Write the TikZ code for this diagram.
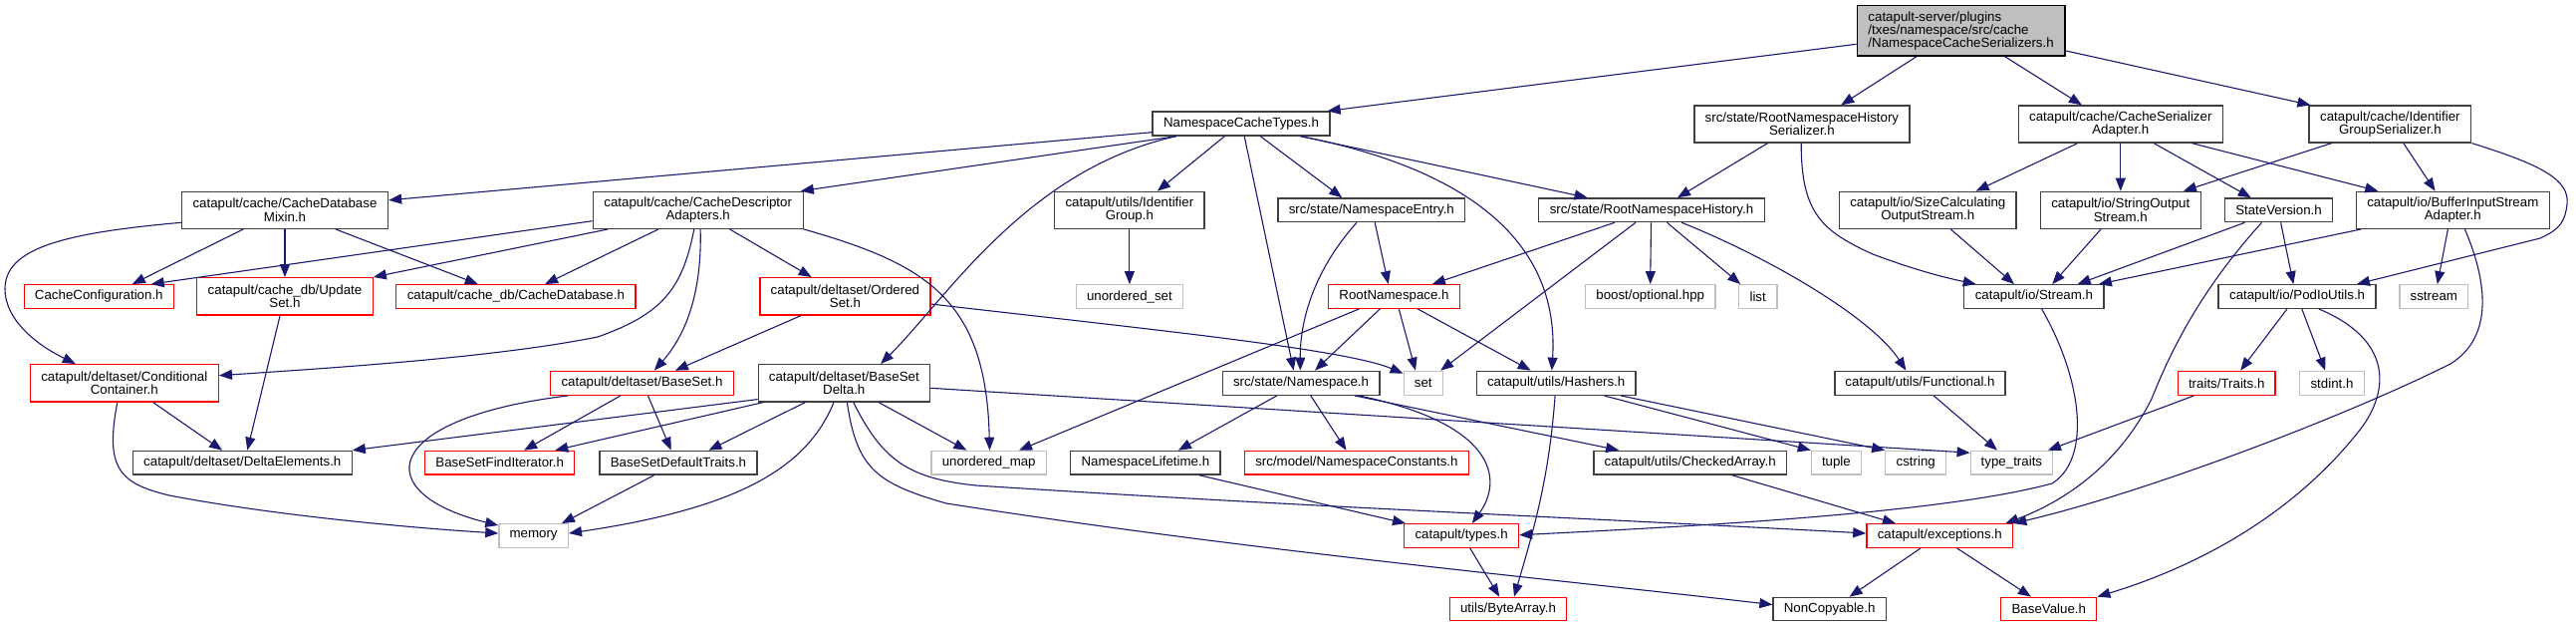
\documentclass[tikz,border=0pt]{standalone}
\usepackage{fontspec}
\setmainfont{Liberation Sans}
\usetikzlibrary{arrows.meta}
\definecolor{edgec}{HTML}{191970}
\definecolor{sysgray}{HTML}{BFBFBF}
\definecolor{docgray}{HTML}{404040}
\newcommand\dxfont{\fontsize{13.3}{13.3}\selectfont}
\tikzset{
  nb/.style={rectangle, inner sep=0pt, align=center, font=\dxfont, line width=1.3pt},
  doc/.style={nb, draw=docgray},
  undoc/.style={nb, draw=red},
  sys/.style={nb, draw=sysgray},
  sz/.style 2 args={minimum width=#1pt, minimum height=#2pt},
  conn/.style={draw=edgec, line width=1.1pt, -{Triangle[length=13pt,width=10pt]}},
}
\begin{document}
\begin{tikzpicture}[x=1pt,y=-1pt]
\useasboundingbox (0,0) rectangle (2586,629);
% row 0
\node[nb, draw=black, fill=sysgray, align=left, sz={208.7}{50.3}] (root) at (1968.6,30.9) {catapult-server/plugins\\/txes/namespace/src/cache\\/NamespaceCacheSerializers.h};
% row 1
\node[doc, sz={178}{24}] (nct) at (1246,124) {NamespaceCacheTypes.h};
\node[doc, sz={216}{37}] (rnhs) at (1808.9,124.5) {src/state/RootNamespaceHistory\\Serializer.h};
\node[doc, sz={205}{37}] (csa) at (2128.8,124.5) {catapult/cache/CacheSerializer\\Adapter.h};
\node[doc, sz={162.7}{37}] (igs) at (2399.4,124.5) {catapult/cache/Identifier\\GroupSerializer.h};
% row 2
\node[doc, sz={207}{37}] (mixin) at (286,210.8) {catapult/cache/CacheDatabase\\Mixin.h};
\node[doc, sz={211}{37}] (cda) at (700.7,210.8) {catapult/cache/CacheDescriptor\\Adapters.h};
\node[doc, sz={150.2}{37}] (idg) at (1133.9,210.8) {catapult/utils/Identifier\\Group.h};
\node[doc, sz={187.8}{23.7}] (nse) at (1376.8,210.8) {src/state/NamespaceEntry.h};
\node[doc, sz={226.5}{23.7}] (rnh) at (1658,210.8) {src/state/RootNamespaceHistory.h};
\node[doc, sz={177.6}{37}] (scos) at (1935.3,210.8) {catapult/io/SizeCalculating\\OutputStream.h};
\node[doc, sz={161}{37}] (sos) at (2128.8,210.8) {catapult/io/StringOutput\\Stream.h};
\node[doc, sz={108}{23.7}] (sv) at (2287.5,210.8) {StateVersion.h};
\node[doc, sz={194}{37}] (bisa) at (2462.3,210.8) {catapult/io/BufferInputStream\\Adapter.h};
% row 3
\node[undoc, sz={150.2}{23.6}] (cfg) at (99.3,297.5) {CacheConfiguration.h};
\node[undoc, sz={176.4}{37.3}] (us) at (286,297.3) {catapult/cache\_db/Update\\Set.h};
\node[undoc, sz={240.3}{23.6}] (cdb) at (517.9,297.5) {catapult/cache\_db/CacheDatabase.h};
\node[undoc, sz={171}{37.3}] (os) at (848.4,297.3) {catapult/deltaset/Ordered\\Set.h};
\node[sys, sz={107.4}{23.6}] (uset) at (1133.9,297.5) {unordered\_set};
\node[undoc, sz={132}{23.6}] (rn) at (1399.5,297.5) {RootNamespace.h};
\node[sys, sz={130.5}{23.6}] (bopt) at (1656.7,297.5) {boost/optional.hpp};
\node[sys, sz={38.3}{23.6}] (list) at (1764.7,297.5) {list};
\node[doc, sz={140.2}{23.6}] (stream) at (2041.9,297.5) {catapult/io/Stream.h};
\node[doc, sz={158}{23.6}] (podio) at (2306.1,297.5) {catapult/io/PodIoUtils.h};
\node[sys, sz={68.8}{23.6}] (sstream) at (2443.3,297.5) {sstream};
% row 4
\node[undoc, sz={189}{37.3}] (cc) at (124.8,384.3) {catapult/deltaset/Conditional\\Container.h};
\node[undoc, sz={184.6}{24}] (bs) at (644.5,384.3) {catapult/deltaset/BaseSet.h};
\node[doc, sz={172.2}{37.3}] (bsd) at (847.3,384.3) {catapult/deltaset/BaseSet\\Delta.h};
\node[doc, sz={157.7}{24}] (ns) at (1306,384.3) {src/state/Namespace.h};
\node[sys, sz={39.2}{24}] (set) at (1428.8,384.3) {set};
\node[doc, sz={159.6}{24}] (hash) at (1562.2,384.3) {catapult/utils/Hashers.h};
\node[doc, sz={171.1}{24}] (func) at (1927.5,384.3) {catapult/utils/Functional.h};
\node[undoc, sz={97.7}{24}] (traits) at (2235.2,384.3) {traits/Traits.h};
\node[sys, sz={64.6}{24}] (stdint) at (2341,384.3) {stdint.h};
% row 5
\node[doc, sz={219.7}{23.7}] (de) at (243.3,464.2) {catapult/deltaset/DeltaElements.h};
\node[undoc, sz={149.8}{23.7}] (bsfi) at (501.7,464.2) {BaseSetFindIterator.h};
\node[doc, sz={158}{23.7}] (bsdt) at (681,464.2) {BaseSetDefaultTraits.h};
\node[sys, sz={115.3}{23.7}] (umap) at (992.7,464.2) {unordered\_map};
\node[doc, sz={150.2}{23.7}] (nsl) at (1149.9,464.2) {NamespaceLifetime.h};
\node[undoc, sz={225}{23.7}] (nsc) at (1361.9,464.2) {src/model/NamespaceConstants.h};
\node[doc, sz={193.6}{23.7}] (ca) at (1696.7,464.2) {catapult/utils/CheckedArray.h};
\node[sys, sz={50.1}{23.7}] (tuple) at (1843.4,464.2) {tuple};
\node[sys, sz={60.8}{23.7}] (cstring) at (1923.2,464.2) {cstring};
\node[sys, sz={82.4}{23.7}] (tt) at (2019.4,464.2) {type\_traits};
% row 6
\node[sys, sz={69.5}{23.6}] (mem) at (535.6,537.5) {memory};
\node[undoc, sz={114.9}{23.6}] (types) at (1467.1,537.5) {catapult/types.h};
\node[undoc, sz={146.8}{23.6}] (exc) at (1947.3,537.5) {catapult/exceptions.h};
% row 7
\node[undoc, sz={117}{23.4}] (ba) at (1514,611) {utils/ByteArray.h};
\node[doc, sz={113.2}{23.4}] (nc) at (1836.6,611) {NonCopyable.h};
\node[undoc, sz={96}{23.4}] (bv) at (2056.8,611) {BaseValue.h};

% ---- edges ----
% root
\draw[conn] ([yshift=-13.4pt]root.west) -- ([xshift=-3pt]nct.north east);
\draw[conn] ([xshift=-44.6pt]root.south) -- ([xshift=39.3pt]rnhs.north);
\draw[conn] ([xshift=44pt]root.south) -- ([xshift=-38.9pt]csa.north);
\draw[conn] ([yshift=-20pt]root.east) -- ([xshift=2pt]igs.north west);
% NamespaceCacheTypes
\draw[conn] ([yshift=-8.7pt]nct.west) -- ([yshift=10pt]mixin.east);
\draw[conn] ([xshift=-65pt]nct.south) -- ([xshift=-3pt]cda.north east);
\draw[conn] ([xshift=-65pt]nct.south) .. controls (1030,170) and (950,300) .. ([xshift=36.8pt]bsd.north);
\draw[conn] ([xshift=-16.6pt]nct.south) -- ([xshift=28pt]idg.north);
\draw[conn] ([xshift=19.2pt]nct.south) -- ([xshift=-29.5pt]nse.north);
\draw[conn] ([xshift=3.2pt]nct.south) -- ([xshift=-7.3pt]ns.north);
\draw[conn] ([xshift=59.5pt]nct.south) -- ([xshift=-64.4pt]rnh.north);
\draw[conn] ([xshift=59.5pt]nct.south) .. controls (1500,175) and (1565,260) .. ([xshift=-4.4pt]hash.north);
% Mixin
\draw[conn] ([xshift=-41.7pt]mixin.south) -- ([xshift=33.5pt]cfg.north);
\draw[conn] (mixin.south) -- (us.north);
\draw[conn] ([xshift=50.9pt]mixin.south) -- ([xshift=-38.1pt]cdb.north);
\draw[conn] ([yshift=-12.5pt]mixin.west) .. controls (60,234) and (5,250) .. (5,290) .. controls (5,320) and (35,345) .. ([xshift=-49pt]cc.north);
% CacheDescriptorAdapters
\draw[conn] ([yshift=-10.9pt]cda.west) -- ([xshift=52.4pt]cfg.north);
\draw[conn] ([xshift=-90.4pt]cda.south) -- (us.north east);
\draw[conn] ([xshift=-39.7pt]cda.south) -- ([xshift=29.2pt]cdb.north);
\draw[conn] ([xshift=-3.9pt]cda.south) .. controls (685,290) and (665,315) .. (600,338) .. controls (500,358) and (350,368) .. ([yshift=7.6pt]cc.east);
\draw[conn] ([xshift=2.4pt]cda.south) .. controls (705,300) and (685,340) .. ([xshift=12.3pt]bs.north);
\draw[conn] ([xshift=31.9pt]cda.south) -- ([xshift=-33.7pt]os.north);
\draw[conn] (cda.south east) .. controls (930,265) and (990,300) .. ([xshift=0.8pt]umap.north);
% IdentifierGroup
\draw[conn] (idg.south) -- (uset.north);
% NamespaceEntry
\draw[conn] ([xshift=3.4pt]nse.south) -- ([xshift=-5.8pt]rn.north);
\draw[conn] ([xshift=-14.8pt]nse.south) .. controls (1320,270) and (1305,320) .. ([xshift=-0.7pt]ns.north);
% RootNamespaceHistorySerializer
\draw[conn] ([xshift=-34.4pt]rnhs.south) -- ([xshift=26pt]rnh.north);
\draw[conn] ([xshift=-0.7pt]rnhs.south) .. controls (1808,215) and (1830,232) .. (1880,255) .. controls (1920,270) and (1950,278) .. ([xshift=-58.2pt]stream.north);
% RootNamespaceHistory
\draw[conn] ([xshift=-37.1pt]rnh.south) -- ([xshift=38.4pt]rn.north);
\draw[conn] ([xshift=-16.1pt]rnh.south) -- ([xshift=17.4pt]set.north);
\draw[conn] ([xshift=-0.5pt]rnh.south) -- (bopt.north);
\draw[conn] ([xshift=15.5pt]rnh.south) -- ([xshift=-17.5pt]list.north);
\draw[conn] ([xshift=30.2pt]rnh.south) .. controls (1780,260) and (1880,320) .. ([xshift=-14.1pt]func.north);
% RootNamespace
\draw[conn] ([xshift=-14.2pt]rn.south) -- ([xshift=14pt]ns.north);
\draw[conn] ([xshift=4.8pt]rn.south) -- ([xshift=-7.8pt]set.north);
\draw[conn] ([xshift=23.7pt]rn.south) -- ([xshift=-25.5pt]hash.north);
\draw[conn] ([xshift=-35.2pt]rn.south) -- ([xshift=30.3pt]umap.north);
% OrderedSet
\draw[conn] ([xshift=-44.3pt]os.south) -- ([xshift=33.4pt]bs.north);
\draw[conn] ([yshift=-7.7pt]os.east) .. controls (1150,330) and (1350,350) .. ([yshift=-3pt]set.north west);
% BaseSet
\draw[conn] ([xshift=-74.2pt]bs.south) .. controls (380,420) and (370,495) .. ([yshift=-2pt]mem.north west);
\draw[conn] ([xshift=-21.6pt]bs.south) -- ([xshift=24.4pt]bsfi.north);
\draw[conn] ([xshift=6pt]bs.south) -- ([xshift=-7.3pt]bsdt.north);
% BaseSetDelta
\draw[conn] ([yshift=3pt]bsd.south west) -- (de.north east);
\draw[conn] ([xshift=-81pt]bsd.south) -- ([xshift=-20pt]bsfi.north east);
\draw[conn] ([xshift=-38.9pt]bsd.south) -- ([xshift=30.5pt]bsdt.north);
\draw[conn] ([xshift=-10.3pt]bsd.south) .. controls (810,470) and (740,510) .. ([yshift=2.5pt]mem.east);
\draw[conn] ([xshift=34.7pt]bsd.south) -- ([xshift=-22.3pt]umap.north);
\draw[conn] ([yshift=-5pt]bsd.east) -- ([yshift=10pt]tt.west);
\draw[conn] ([xshift=9.4pt]bsd.south) .. controls (885,460) and (910,480) .. (980,487) .. controls (1300,508) and (1600,520) .. ([yshift=2.5pt]exc.west);
\draw[conn] ([xshift=3.1pt]bsd.south) .. controls (860,470) and (880,485) .. (950,505) .. controls (1250,552) and (1550,580) .. ([yshift=4.4pt]nc.west);
% BaseSetDefaultTraits
\draw[conn] ([xshift=-24.2pt]bsdt.south) -- ([xshift=28.4pt]mem.north);
% ConditionalContainer
\draw[conn] ([xshift=28.8pt]cc.south) -- ([xshift=-20.2pt]de.north);
\draw[conn] ([xshift=-7pt]cc.south) .. controls (105,470) and (120,485) .. (170,497) .. controls (280,518) and (420,530) .. ([yshift=2.5pt]mem.west);
% UpdateSet
\draw[conn] ([xshift=-4.9pt]us.south) -- ([xshift=5pt]de.north);
% Namespace
\draw[conn] ([xshift=-24.2pt]ns.south) -- ([xshift=33pt]nsl.north);
\draw[conn] ([xshift=9.8pt]ns.south) -- ([xshift=-10.4pt]nsc.north);
\draw[conn] ([xshift=54pt]ns.south) -- ([xshift=-71.6pt]ca.north);
\draw[conn] ([xshift=58.2pt]ns.south) .. controls (1500,425) and (1510,480) .. ([xshift=10.7pt]types.north);
% NamespaceLifetime
\draw[conn] ([xshift=54pt]nsl.south) -- ([xshift=2pt]types.north west);
% Hashers
\draw[conn] ([xshift=-1.1pt]hash.south) .. controls (1555,480) and (1540,530) .. ([xshift=6pt]ba.north);
\draw[conn] ([xshift=48.2pt]hash.south) -- (tuple.north west);
\draw[conn] ([xshift=65pt]hash.south) -- (cstring.north west);
% Functional, Traits
\draw[conn] ([xshift=13.7pt]func.south) -- ([xshift=-14.4pt]tt.north);
\draw[conn] ([xshift=-32.7pt]traits.south) -- ([xshift=36.5pt]tt.north);
% CheckedArray, types, exceptions
\draw[conn] ([xshift=42.1pt]ca.south) -- ([xshift=-44.4pt]exc.north);
\draw[conn] ([xshift=8.6pt]types.south) -- ([xshift=-8.8pt]ba.north);
\draw[conn] ([xshift=-19.2pt]exc.south) -- ([xshift=20pt]nc.north);
\draw[conn] ([xshift=17.3pt]exc.south) -- ([xshift=-17.9pt]bv.north);
% CacheSerializerAdapter
\draw[conn] ([xshift=-43.1pt]csa.south) -- ([xshift=48.4pt]scos.north);
\draw[conn] (csa.south) -- (sos.north);
\draw[conn] ([xshift=33.3pt]csa.south) -- ([xshift=-27.7pt]sv.north);
\draw[conn] ([xshift=71.6pt]csa.south) -- ([xshift=-75pt]bisa.north);
% IdentifierGroupSerializer
\draw[conn] ([xshift=-58.8pt]igs.south) -- ([xshift=63.1pt]sos.north);
\draw[conn] ([xshift=13.4pt]igs.south) -- ([xshift=-17.7pt]bisa.north);
\draw[conn] (igs.south east) .. controls (2550,165) and (2580,180) .. (2577,205) .. controls (2575,222) and (2570,230) .. (2550,239) -- ([xshift=59.9pt]podio.north);
% io streams
\draw[conn] ([xshift=22.9pt]scos.south) -- ([xshift=-19.9pt]stream.north);
\draw[conn] ([xshift=-19.8pt]sos.south) -- ([xshift=18.3pt]stream.north);
\draw[conn] ([xshift=-34pt]sv.south) -- ([xshift=43.8pt]stream.north);
\draw[conn] ([xshift=2.1pt]sv.south) -- ([xshift=-3.8pt]podio.north);
\draw[conn] ([xshift=-17pt]sv.south) .. controls (2210,290) and (2180,350) .. (2160,400) .. controls (2130,460) and (2080,500) .. ([xshift=-8pt]exc.north east);
\draw[conn] ([xshift=-92pt]bisa.south) -- ([xshift=65pt]stream.north);
\draw[conn] ([xshift=-4.9pt]bisa.south) -- ([xshift=3.5pt]sstream.north);
\draw[conn] ([xshift=12.1pt]bisa.south) .. controls (2500,290) and (2500,340) .. (2460,365) .. controls (2350,420) and (2150,495) .. (exc.north east);
\draw[conn] ([xshift=7.7pt]stream.south) .. controls (2090,380) and (2100,460) .. (2060,485) .. controls (1950,515) and (1700,528) .. ([yshift=0.8pt]types.east);
% PodIoUtils
\draw[conn] ([xshift=-10.2pt]podio.south) -- ([xshift=14pt]traits.north);
\draw[conn] ([xshift=4.7pt]podio.south) -- ([xshift=-6.8pt]stdint.north);
\draw[conn] ([xshift=21.7pt]podio.south) .. controls (2400,340) and (2400,390) .. (2370,430) .. controls (2300,520) and (2200,570) .. (bv.north east);
\end{tikzpicture}
\end{document}
